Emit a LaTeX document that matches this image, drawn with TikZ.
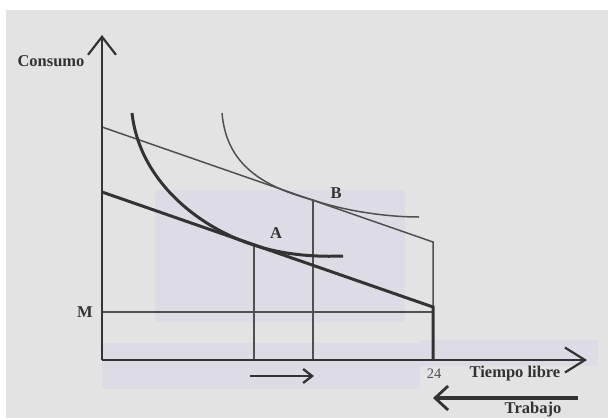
\documentclass[tikz,border=0pt]{standalone}
\usepackage{fontspec}
\setmainfont{Liberation Serif}
\usetikzlibrary{arrows.meta}
\definecolor{bgray}{HTML}{E3E3E3}
\definecolor{lav}{HTML}{DDDCE6}
\definecolor{ink}{HTML}{333333}
\definecolor{inkl}{HTML}{505050}
\tikzset{
  lbl/.style={font=\fontsize{16.5}{19}\selectfont\bfseries, text=ink, inner sep=0pt},
  axis/.style={draw=ink, line width=2.5pt, -{Straight Barb[length=18pt,width=28pt,line width=2.2pt]}},
  thickline/.style={draw=ink, line width=3pt},
  thinline/.style={draw=inkl, line width=1.5pt},
  guide/.style={draw=inkl, line width=1.1pt},
}
\begin{document}
\begin{tikzpicture}[x=1pt,y=-1pt]
\useasboundingbox (0,0) rectangle (608,418);
% scanned background
\fill[white] (0,0) rectangle (608,418);
\fill[bgray] (6,10) rectangle (608,418);
\fill[lav] (155,190) rectangle (405,322);
\fill[lav] (102,343) rectangle (420,389);
\fill[lav] (420,340) rectangle (598,366);
% coordinates
\coordinate (O) at (102,360);
\coordinate (Ytop) at (102,35);
\coordinate (Xend) at (587,360);
\coordinate (U0) at (102,127);
\coordinate (U1) at (433,242);
\coordinate (L0) at (102,192);
\coordinate (L1) at (433,307);
\coordinate (M0) at (102,312);
\coordinate (M1) at (433,312);
\coordinate (X24) at (433,360);
\coordinate (Apt) at (254,245);
\coordinate (Abase) at (254,360);
\coordinate (Bpt) at (313,200);
\coordinate (Bbase) at (313,360);
\coordinate (IA0) at (132,113);
\coordinate (IA1) at (343,256);
\coordinate (IB0) at (222,113);
\coordinate (IB1) at (419,217);
\coordinate (R0) at (250,376);
\coordinate (R1) at (314,376);
\coordinate (T0) at (578,398);
\coordinate (T1) at (433,398);
% guides
\draw[guide] (M0) -- (M1);
\draw[guide] (Apt) -- (Abase);
\draw[guide] (Bpt) -- (Bbase);
% budget lines
\draw[thinline] (U0) -- (U1) -- (L1);
\draw[thickline] (L0) -- (L1) -- (X24);
% indifference curves
\draw[thickline] (IA0) .. controls (140,185) and (205,230) .. (Apt)
  .. controls (284,255.4) and (318,257) .. (IA1);
\draw[thinline] (IB0) .. controls (226,160) and (256,185) .. (Bpt)
  .. controls (343,210.4) and (385,217) .. (IB1);
% axes
\draw[axis] (O) -- (Ytop);
\draw[axis, -{Straight Barb[length=20pt,width=25pt,line width=2.2pt]}] (O) -- (Xend);
% arrows below
\draw[draw=ink, line width=2.5pt, -{Straight Barb[length=9pt,width=14pt,line width=2.3pt]}] (R0) -- (R1);
\draw[draw=ink, line width=3.2pt, -{Straight Barb[length=13pt,width=24pt,line width=2.8pt]}] (T0) -- (T1);
% labels
\node[lbl] (consumo) at (51,61) {Consumo};
\node[lbl] (m) at (85,312) {M};
\node[lbl] (a) at (276,233) {A};
\node[lbl] (b) at (336,193) {B};
\node[lbl, font=\fontsize{14.5}{16}\selectfont, text=inkl] (n24) at (434,374) {24};
\node[lbl] (tl) at (515,374) {Tiempo libre};
\node[lbl] (tr) at (533,410) {Trabajo};
\end{tikzpicture}
\end{document}
